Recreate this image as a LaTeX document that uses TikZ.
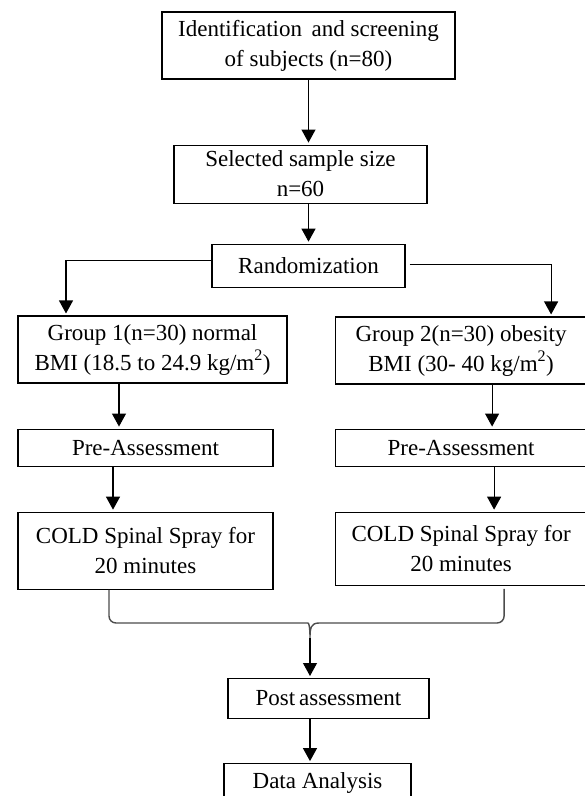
\documentclass[tikz,border=0pt]{standalone}
\usepackage{fontspec}
\setmainfont{Liberation Serif}
\usetikzlibrary{positioning,arrows.meta,calc}

\begin{document}
\begin{tikzpicture}[
  x=1pt, y=1pt,
  font=\fontsize{23}{30}\selectfont,
  box/.style={draw, line width=1.1pt, align=center, inner sep=2pt},
  arr/.style={-{Triangle[width=14pt,length=13pt]}, line width=1.1pt, shorten >=2pt},
  brace/.style={draw=black!70, line width=1.4pt}
]
\useasboundingbox (0,0) rectangle (585,-796);

% nodes
\node[box, minimum width=293pt, minimum height=67pt] (ident) at (308.5,-45.5)
  {Identification\, and screening\\of subjects (n=80)};
\node[box, minimum width=253pt, minimum height=58pt, below=65pt of ident, xshift=-8pt] (sample)
  {Selected sample size\\n=60};
\node[box, minimum width=193pt, minimum height=43pt, below=40pt of sample, xshift=8pt] (rand)
  {Randomization};
\node[box, minimum width=269pt, minimum height=67pt] (grp1) at (152.5,-349.5)
  {Group 1(n=30) normal\\BMI (18.5 to 24.9 kg/m\textsuperscript{2})};
\node[box, minimum width=252pt, minimum height=67pt, right=47pt of grp1, yshift=-1pt] (grp2)
  {Group 2(n=30) obesity\\BMI (30- 40 kg/m\textsuperscript{2})};
\node[box, minimum width=255pt, minimum height=37pt, below=45pt of grp1, xshift=-7pt] (pre1)
  {Pre-Assessment};
\node[box, minimum width=252pt, minimum height=37pt, right=61pt of pre1] (pre2)
  {Pre-Assessment};
\node[box, minimum width=255pt, minimum height=77pt, below=45pt of pre1] (cold1)
  {COLD Spinal Spray for\\20 minutes};
\node[box, minimum width=252pt, minimum height=73pt, right=61pt of cold1, yshift=2pt] (cold2)
  {COLD Spinal Spray for\\20 minutes};
\coordinate (merge) at (310,-638);
\node[box, minimum width=201pt, minimum height=40pt, below=40pt of merge, xshift=18.5pt] (post)
  {Post\,assessment};
\node[box, minimum width=187pt, minimum height=38pt, below=44pt of post, xshift=-11pt] (data)
  {Data Analysis};

% arrows
\draw[arr] (ident.south) -- (ident.south |- sample.north);
\draw[arr] (sample.south -| rand) -- (rand.north);
\draw[arr] ([yshift=5pt]rand.west) -| ([xshift=-86.5pt]grp1.north);
\draw[arr] ([xshift=4pt,yshift=1.5pt]rand.east) -| ([xshift=90pt]grp2.north);
\draw[arr] ([xshift=-33.5pt]grp1.south) -- ([xshift=-26.5pt]pre1.north);
\draw[arr] ([xshift=31pt]grp2.south) -- ([xshift=31pt]pre2.north);
\draw[arr] ([xshift=-32.5pt]pre1.south) -- ([xshift=-32.5pt]cold1.north);
\draw[arr] ([xshift=33pt]pre2.south) -- ([xshift=33pt]cold2.north);

% brace joining both groups
\draw[brace] ([xshift=-36.5pt]cold1.south) [rounded corners=7pt] |- ([xshift=-9pt,yshift=15pt]merge)
  [sharp corners] .. controls +(8,0) and +(0,10) .. (merge)
  .. controls +(0,10) and +(-8,0) .. ([xshift=9pt,yshift=15pt]merge)
  [rounded corners=7pt] -| ([xshift=43pt,yshift=-3pt]cold2.south);
\draw[arr] (merge) -- (merge |- post.north);
\draw[arr] (merge |- post.south) -- (merge |- data.north);

\end{tikzpicture}
\end{document}
